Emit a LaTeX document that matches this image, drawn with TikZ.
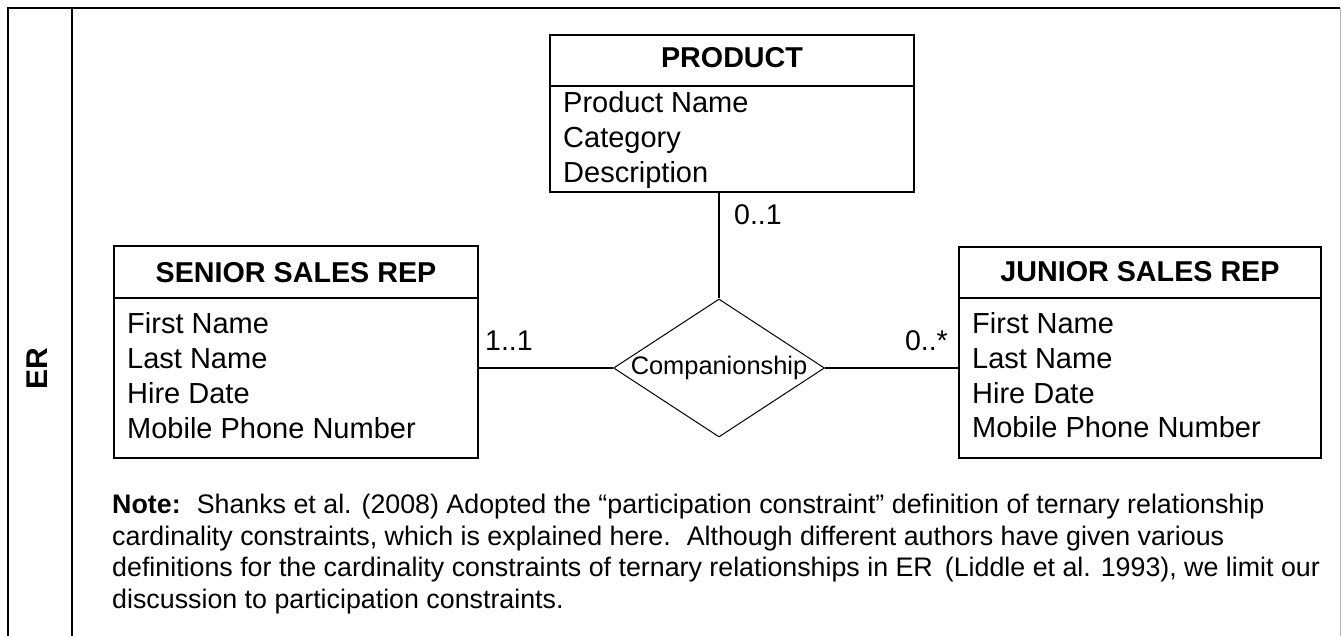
\documentclass[tikz,border=0pt]{standalone}
\usepackage{fontspec}
\setmainfont{Liberation Sans}
\usetikzlibrary{shapes.geometric}

\begin{document}
\begin{tikzpicture}[x=1pt,y=1pt]
	\tikzstyle{every node}+=[inner sep=0pt]
	\tikzstyle{entbox}=[draw=black, line width=1.8pt, rectangle]
	\tikzstyle{titletext}=[anchor=base, font=\bfseries\fontsize{28.7}{34}\selectfont]
	\tikzstyle{attrtext}=[anchor=base west, font=\fontsize{29}{34}\selectfont]
	\tikzstyle{cardtext}=[font=\fontsize{28.5}{34}\selectfont]
	\tikzstyle{notetext}=[anchor=base west, font=\fontsize{26.8}{32}\selectfont]
	\useasboundingbox (0,0) rectangle (1341,-636);
	% frame
	\draw [black, line width=1.8pt] (8,-636) -- (8,-8) -- (1340,-8);
	\draw [black, line width=1.8pt] (72,-8) -- (72,-636);
	\draw [black!30, line width=1pt] (1340,-8) -- (1340,-636);
	\node [rotate=90, font=\bfseries\fontsize{30}{36}\selectfont] (er) at (37,-369) {ER};
	% product
	\node [entbox, minimum width=364, minimum height=157] (product) at (732,-113.5) {};
	\draw [black, line width=1.8pt] (product.north west) ++(0,-52) -- ++(364,0);
	\node [titletext] (producttitle) at (732,-68) {PRODUCT};
	\node [attrtext] (productname) at (563,-113) {Product Name};
	\node [attrtext] (category) at (563,-148) {Category};
	\node [attrtext] (description) at (563,-183) {Description};
	% senior sales rep
	\node [entbox, minimum width=364, minimum height=212] (senior) at (296,-352) {};
	\draw [black, line width=1.8pt] (senior.north west) ++(0,-53) -- ++(364,0);
	\node [titletext] (seniortitle) at (296,-283) {SENIOR SALES REP};
	\node [attrtext] (seniorfirst) at (127,-333) {First Name};
	\node [attrtext] (seniorlast) at (127,-368) {Last Name};
	\node [attrtext] (seniorhire) at (127,-403) {Hire Date};
	\node [attrtext] (seniormobile) at (127,-438) {Mobile Phone Number};
	% junior sales rep
	\node [entbox, minimum width=362, minimum height=211] (junior) at (1140,-352.5) {};
	\draw [black, line width=1.8pt] (junior.north west) ++(0,-52) -- ++(362,0);
	\node [titletext] (juniortitle) at (1140,-282) {JUNIOR SALES REP};
	\node [attrtext] (juniorfirst) at (972,-333) {First Name};
	\node [attrtext] (juniorlast) at (972,-368) {Last Name};
	\node [attrtext] (juniorhire) at (972,-403) {Hire Date};
	\node [attrtext] (juniormobile) at (972,-437) {Mobile Phone Number};
	% relationship
	\node [draw=black, diamond, line width=1pt, minimum width=211, minimum height=138] (rel) at (719,-368) {};
	\node [font=\fontsize{25.4}{30}\selectfont] (reltext) at (rel) {Companionship};
	\draw [black, line width=1.8pt] (senior.east |- rel.west) -- (rel.west);
	\draw [black, line width=1.8pt] (rel.east) -- (junior.west |- rel.east);
	\draw [black, line width=1.8pt] (rel.north |- product.south) -- (rel.north);
	\node [cardtext, anchor=base west] (cardsenior) at (485,-350) {1..1};
	\node [cardtext, anchor=base east] (cardjunior) at (948,-350) {0..*};
	\node [cardtext, anchor=base west] (cardproduct) at (734,-225) {0..1};
	% note
	\node [notetext] (note1) at (112,-513) {\textbf{Note:}\hspace{0.6em}Shanks et al. (2008) Adopted the “participation constraint” definition of ternary relationship};
	\node [notetext] (note2) at (112,-545) {cardinality constraints, which is explained here.\hspace{0.6em}Although different authors have given various};
	\node [notetext] (note3) at (112,-576) {definitions for the cardinality constraints of ternary relationships in ER\hspace{0.45em}(Liddle et al. 1993), we limit our};
	\node [notetext] (note4) at (112,-608) {discussion to participation constraints.};
\end{tikzpicture}
\end{document}
